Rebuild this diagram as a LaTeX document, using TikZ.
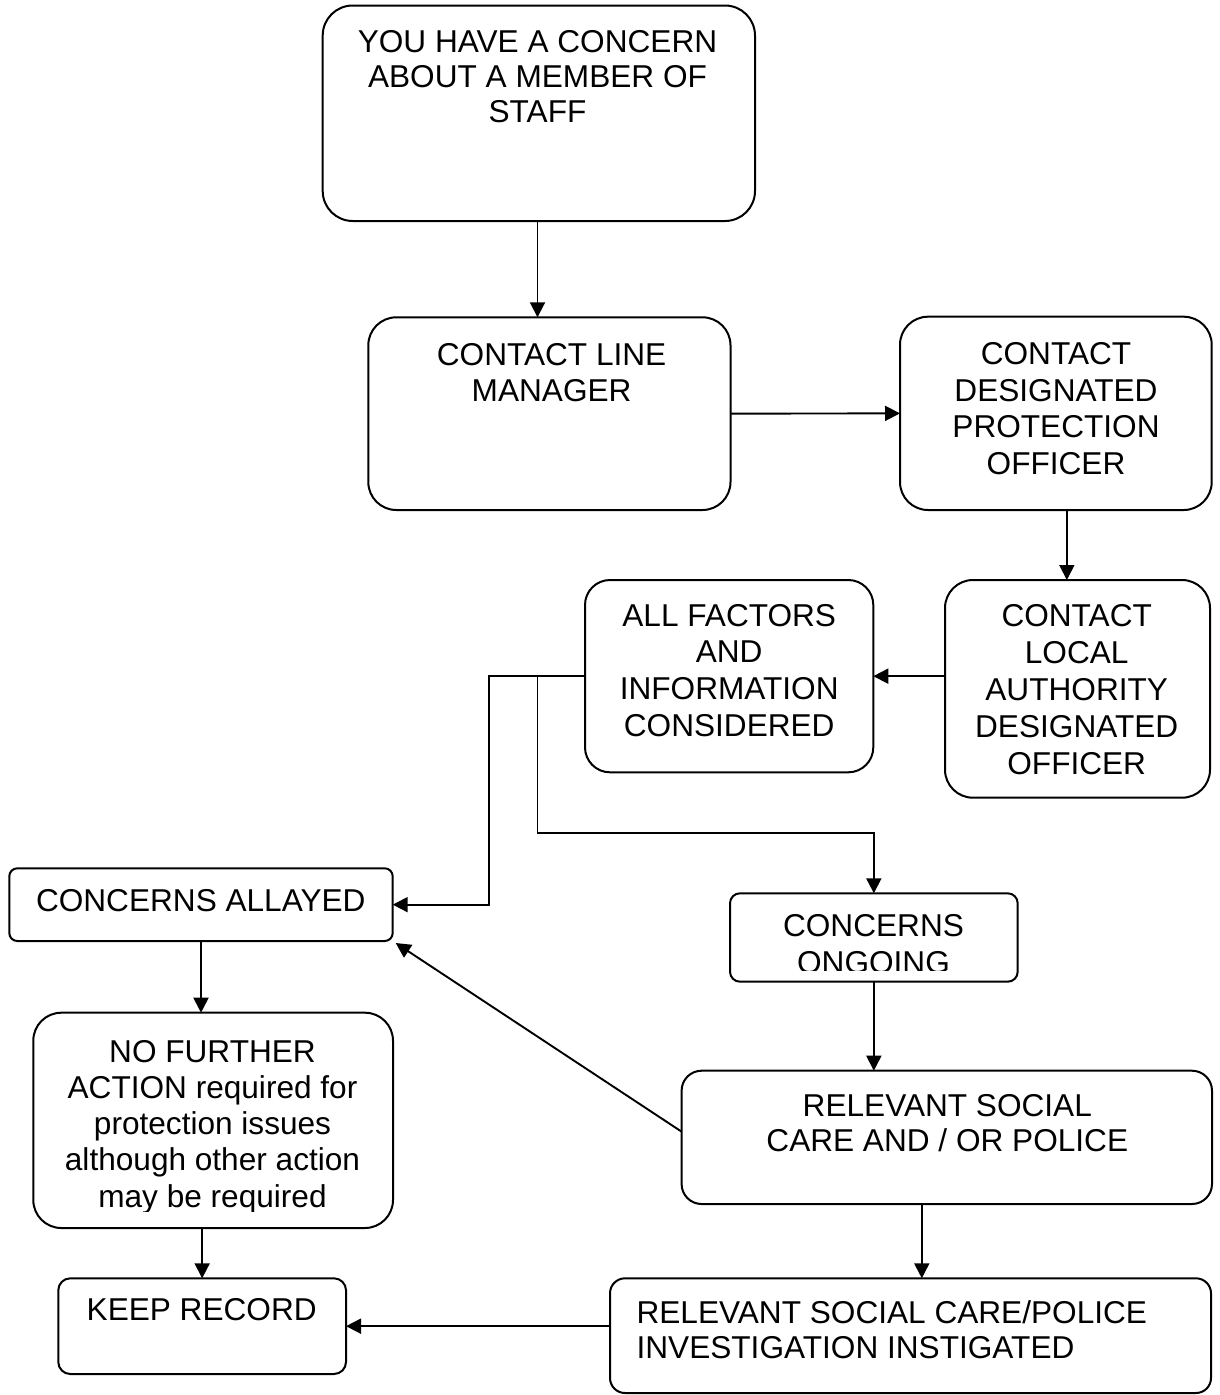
\documentclass[tikz,border=0pt]{standalone}
\usepackage{fontspec}
\setmainfont{Liberation Sans}
\usetikzlibrary{arrows.meta,calc}
\newcommand{\flowbox}[6]{%
  \node[box, rounded corners=#6, minimum width={#4-#2}, minimum height={#5-#3}] (#1) at ({(#2+#4)/2},{(#3+#5)/2}) {};}
\begin{document}
\begin{tikzpicture}[x=1pt,y=-1pt,
  box/.style={draw, line width=2pt, inner sep=0pt, outer sep=0pt, rectangle},
  lbl/.style={inner sep=0pt, outer sep=0pt, align=center, anchor=north, font=\fontsize{31.6}{36.5}\selectfont},
  conn/.style={line width=1.9pt, -{Triangle[length=15pt,width=15pt]}}]
\path[fill=white, use as bounding box] (0,0) rectangle (1220,1395);

% boxes
\flowbox{b1}{322.7}{5.5}{755}{221}{30pt}
\flowbox{b2}{368.3}{317.3}{730.5}{510}{28pt}
\flowbox{b3}{900}{316.7}{1211.7}{510}{28pt}
\flowbox{b4}{945}{580}{1210}{797.7}{28pt}
\flowbox{b5}{585}{580}{873.3}{772.3}{25pt}
\flowbox{b6}{9.3}{868.3}{392.7}{941}{8pt}
\flowbox{b7}{730}{893.3}{1017.7}{981.7}{10pt}
\flowbox{b8}{33.3}{1012.7}{393}{1228}{28pt}
\flowbox{b9}{681.6}{1070.7}{1212}{1204}{20pt}
\flowbox{b10}{58.3}{1278.3}{346}{1374}{12pt}
\flowbox{b11}{610}{1278.3}{1211}{1393}{15pt}

% texts
\node[lbl, font=\fontsize{31.6}{35.1}\selectfont] (t1) at (537.5,30.5) {YOU HAVE A CONCERN\\ABOUT A MEMBER OF\\STAFF};
\node[lbl] (t2) at (551.6,343.4) {CONTACT LINE\\MANAGER};
\node[lbl, font=\fontsize{31.6}{36.7}\selectfont] (t3) at (1056,342.4) {CONTACT\\DESIGNATED\\PROTECTION\\OFFICER};
\node[lbl, font=\fontsize{31.6}{37}\selectfont] (t4) at (1076.7,604.1) {CONTACT\\LOCAL\\AUTHORITY\\DESIGNATED\\OFFICER};
\node[lbl, font=\fontsize{31.6}{36.7}\selectfont] (t5) at (729.2,604.1) {ALL FACTORS\\AND\\INFORMATION\\CONSIDERED};
\node[lbl] (t6) at (200.8,889.6) {CONCERNS ALLAYED};
\begin{scope}
  \clip (730,893.3) rectangle (1017.7,970);
  \node[lbl, font=\fontsize{31.6}{36.7}\selectfont] (t7) at (873.5,914.4) {CONCERNS\\ONGOING};
\end{scope}
\begin{scope}
  \clip (33.3,1012.7) rectangle (393,1211.5);
  \node[lbl, font=\fontsize{31.6}{36.3}\selectfont] (t8) at (212.5,1040) {NO FURTHER\\ACTION required for\\protection issues\\although other action\\may be required};
\end{scope}
\node[lbl, font=\fontsize{31.6}{35}\selectfont] (t9) at (947.3,1094.4) {RELEVANT SOCIAL\\CARE AND / OR POLICE};
\node[lbl] (t10) at (201.7,1298.6) {KEEP RECORD};
\node[lbl, anchor=north west, align=left, font=\fontsize{31.6}{35}\selectfont] (t11) at (636.6,1300.8) {RELEVANT SOCIAL CARE/POLICE\\INVESTIGATION INSTIGATED};

% connectors
\coordinate (e1) at (489.3,676.2);
\coordinate (f1) at (537.5,833.3);
\draw[conn] (b1.south -| f1) -- (b2.north -| f1);
\draw[conn] (b2.east) -- (b3.west);
\draw[conn] ([xshift=11pt]b3.south) -- ([xshift=11pt]b3.south |- b4.north);
\draw[conn] (b4.west |- b5.east) -- (b5.east);
\draw[conn] (b5.west) -- (b5.west -| e1) |- (b6.east);
\draw[conn] (b5.west -| f1) -- (f1) -| (b7.north);
\draw[conn] (b7.south) -- (b7.south |- b9.north);
\draw[conn] ([yshift=5.7pt]b9.west) -- ([shift={(3pt,-2pt)}]b6.south east);
\draw[conn] (b6.south) -- (b6.south |- b8.north);
\draw[conn] (b10.north |- b8.south) -- (b10.north);
\draw[conn] ([xshift=-25pt]b9.south) -- ([xshift=-25pt]b9.south |- b11.north);
\draw[conn] (b11.west |- b10.east) -- (b10.east);
\end{tikzpicture}
\end{document}
